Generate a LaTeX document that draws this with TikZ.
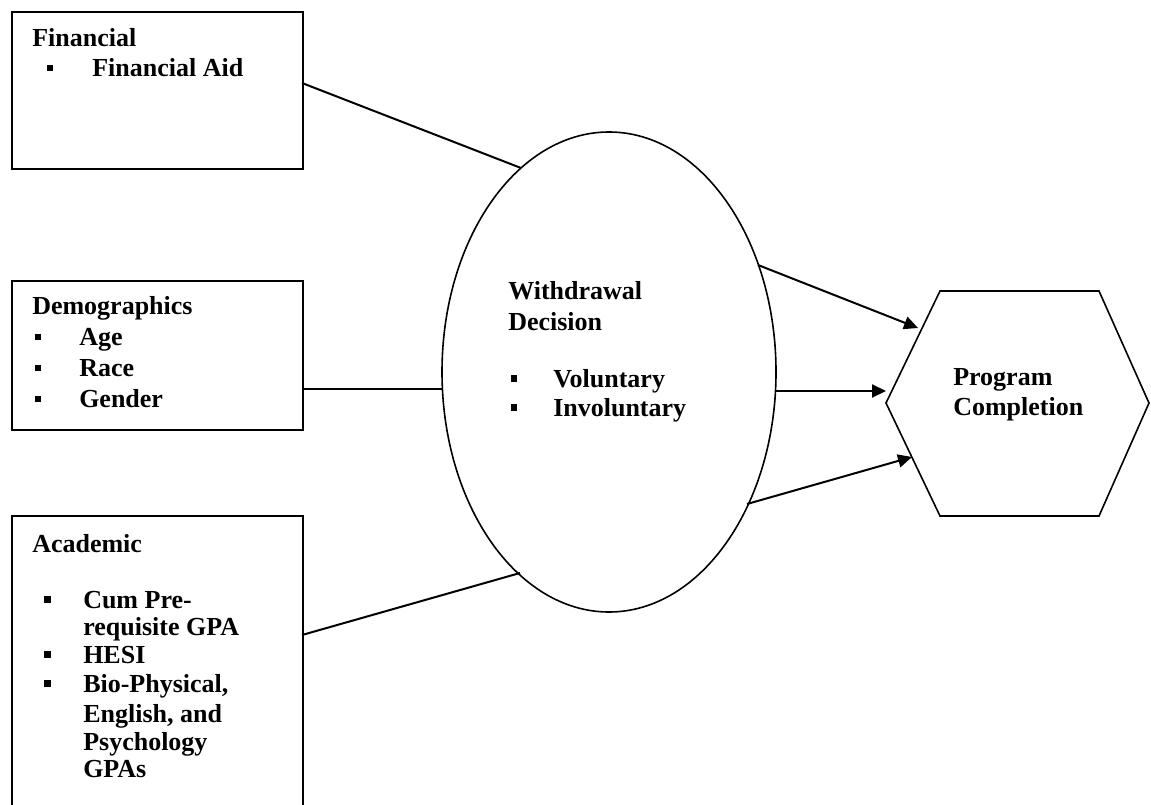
\documentclass[tikz,border=0pt]{standalone}
\usepackage{fontspec}
\setmainfont{Liberation Serif}
\usetikzlibrary{arrows.meta,shapes.geometric}
\begin{document}
\begin{tikzpicture}[x=0.75pt,y=-0.75pt,
  box/.style={draw,line width=1.5pt,anchor=north west,inner sep=0pt,minimum width=218.25pt},
  txt/.style={anchor=base west,inner sep=0pt,font=\fontsize{19.5}{23}\selectfont\bfseries},
  bul/.style={fill,inner sep=0pt,minimum size=4.8pt},
  con/.style={line width=1.5pt},
  arr/.style={line width=1.5pt,-{Triangle[length=10.5pt,width=9.75pt]}},
  shp/.style={line width=1.2pt}]
\useasboundingbox (0,0) rectangle (1151,805);
% boxes
\node (fin) [box,minimum height=117.75pt] at (11,11) {};
\node (dem) [box,minimum height=111.75pt] at (11,280) {};
\node (aca) [box,minimum height=225pt] at (11,515) {};
% ellipse
\node (ell) [draw,shp,ellipse,inner sep=0pt,minimum width=250.5pt,minimum height=360pt] at (609,372) {};
% hexagon
\draw[shp,line join=miter] (940,291) coordinate (h1) -- (1099,291) coordinate (h2) -- (1149,403) coordinate (h3)
  -- (1099,516) coordinate (h4) -- (940,516) coordinate (h5) -- (886,403) coordinate (h6) -- cycle;
% financial text
\node (t1) [txt] at (32,47) {Financial};
\node (b1) [bul] at (50,68) {};
\node (t2) [txt] at (92,77) {Financial Aid};
% demographics text
\node (t3) [txt] at (32,315) {Demographics};
\node (b2) [bul] at (38,337) {};
\node (t4) [txt] at (79,345) {Age};
\node (b3) [bul] at (38,368) {};
\node (t5) [txt] at (79,376) {Race};
\node (b4) [bul] at (38,399) {};
\node (t6) [txt] at (79,407) {Gender};
% academic text
\node (t7) [txt] at (32,552) {Academic};
\node (b5) [bul] at (47.5,599.5) {};
\node (t8) [txt] at (83,608) {Cum Pre-};
\node (t9) [txt] at (83,635) {requisite GPA};
\node (b6) [bul] at (47.5,654.5) {};
\node (t10) [txt] at (83,663) {HESI};
\node (b7) [bul] at (47.5,683.5) {};
\node (t11) [txt] at (83,692) {Bio-Physical,};
\node (t12) [txt] at (83,722) {English, and};
\node (t13) [txt] at (83,750) {Psychology};
\node (t14) [txt] at (83,777) {GPAs};
% withdrawal text
\node (t15) [txt] at (508,299) {Withdrawal};
\node (t16) [txt] at (508,330) {Decision};
\node (b8) [bul] at (514,378.5) {};
\node (t17) [txt] at (553,387) {Voluntary};
\node (b9) [bul] at (514,407.5) {};
\node (t18) [txt] at (553,416) {Involuntary};
% program completion
\node (t19) [txt] at (953,385) {Program};
\node (t20) [txt] at (953,415) {Completion};
% connector end points
\coordinate (f1) at (302,83);
\coordinate (f2) at (521,168);
\coordinate (d1) at (302,389);
\coordinate (d2) at (442,389);
\coordinate (a1) at (302,635);
\coordinate (a2) at (520,573);
\coordinate (e1) at (758,265);
\coordinate (e2) at (775,391);
\coordinate (e3) at (747,504);
\coordinate (p1) at (918,328);
\coordinate (p2) at (886,391);
\coordinate (p3) at (912,457);
\draw[con] (f1) -- (f2);
\draw[con] (d1) -- (d2);
\draw[con] (a1) -- (a2);
\draw[arr] (e1) -- (p1);
\draw[arr] (e2) -- (p2);
\draw[arr] (e3) -- (p3);
\end{tikzpicture}
\end{document}
